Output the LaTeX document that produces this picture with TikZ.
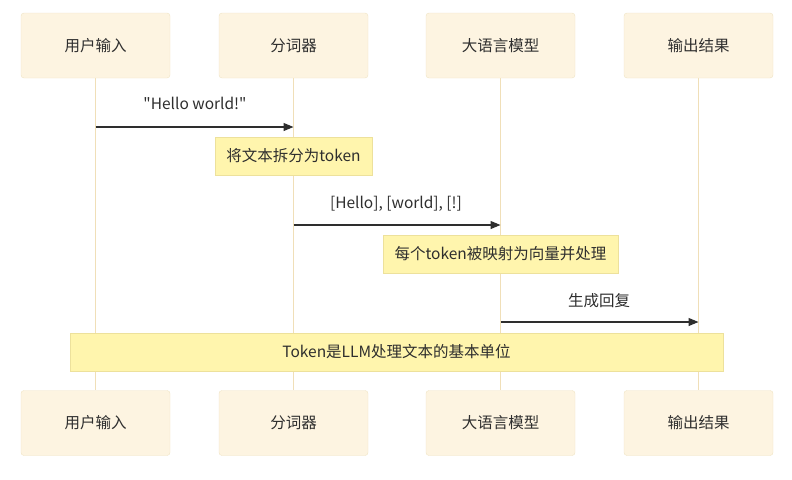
\documentclass[tikz,border=0pt]{standalone}
\usepackage{fontspec}
\setmainfont{Noto Sans CJK SC}[Ligatures=TeXOff]
\usetikzlibrary{arrows.meta, backgrounds}

\definecolor{actorfill}{HTML}{FDF4E1}
\definecolor{actorline}{HTML}{EFE3C4}
\definecolor{lifecol}{HTML}{F0DFB8}
\definecolor{notefill}{HTML}{FFF5AD}
\definecolor{noteline}{HTML}{EDE19C}
\definecolor{ink}{HTML}{2E2E2E}

\tikzset{
  actor/.style = {draw=actorline, fill=actorfill, rounded corners=3pt,
    minimum width=149pt, minimum height=65pt, text=ink,
    font=\fontsize{15.5}{18}\selectfont},
  notebox/.style = {draw=noteline, fill=notefill, minimum height=38pt,
    text=ink, font=\fontsize{15.5}{18}\selectfont},
  msg/.style = {ink, line width=1.2pt, -{Triangle[length=10pt, width=8pt]}},
  msglabel/.style = {text=ink, font=\fontsize{15.5}{18}\selectfont},
  lifeline/.style = {lifecol, line width=1.2pt}
}

\begin{document}
\begin{tikzpicture}[x=1pt, y=-1pt]
\useasboundingbox (0,0) rectangle (792,479);

% actors, top and bottom
\node[actor] (userT) at (95.5, 45.5) {用户输入};
\node[actor] (tokT) at (293.5, 45.5) {分词器};
\node[actor] (llmT) at (500.5, 45.5) {大语言模型};
\node[actor] (outT) at (698.5, 45.5) {输出结果};
\node[actor] (userB) at (95.5, 423) {用户输入};
\node[actor] (tokB) at (293.5, 423) {分词器};
\node[actor] (llmB) at (500.5, 423) {大语言模型};
\node[actor] (outB) at (698.5, 423) {输出结果};

% lifelines
\begin{scope}[on background layer]
\draw[lifeline] (userT) -- (userB);
\draw[lifeline] (tokT) -- (tokB);
\draw[lifeline] (llmT) -- (llmB);
\draw[lifeline] (outT) -- (outB);
\end{scope}

% messages
\coordinate (m1a) at (userT |- 0,127);
\coordinate (m1b) at (tokT |- 0,127);
\draw[msg] (m1a) -- (m1b);
\node[msglabel] (m1lab) at (195, 103) {"Hello world!"};

\node[notebox, minimum width=157pt] (note1) at (293.5, 156) {将文本拆分为token};

\coordinate (m2a) at (tokT |- 0,225);
\coordinate (m2b) at (llmT |- 0,225);
\draw[msg] (m2a) -- (m2b);
\node[msglabel] (m2lab) at (396, 204) {[Hello], [world], [!]};

\node[notebox, minimum width=235pt] (note2) at (500.5, 254) {每个token被映射为向量并处理};

\coordinate (m3a) at (llmT |- 0,322);
\coordinate (m3b) at (outT |- 0,322);
\draw[msg] (m3a) -- (m3b);
\node[msglabel] (m3lab) at (599, 301) {生成回复};

\node[notebox, minimum width=653pt] (note3) at (396.5, 352) {Token是LLM处理文本的基本单位};
\end{tikzpicture}
\end{document}
